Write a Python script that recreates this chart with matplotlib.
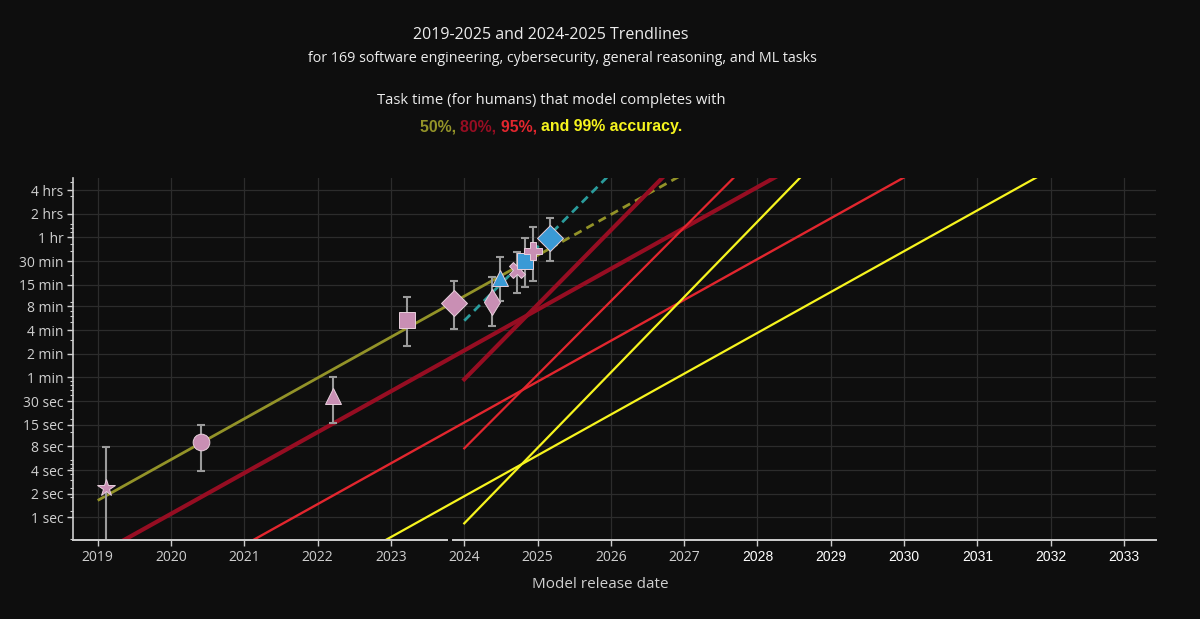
import matplotlib
matplotlib.use("Agg")
import matplotlib.pyplot as plt
from matplotlib.ticker import FixedLocator, NullFormatter, LogLocator

# ---------------- data ----------------
# model release dates (decimal year) and 50% time horizons (minutes)
model_year = [2019.11, 2020.41, 2022.21, 2023.22, 2023.86, 2024.38,
              2024.49, 2024.72, 2024.83, 2024.94, 2025.17]
horizon_min = [0.040, 0.150, 0.586, 5.36, 8.8, 9.15,
               18.1, 23.1, 30.4, 40.3, 59.5]
ci_low_min = [0.002, 0.065, 0.261, 2.53, 4.12, 4.53,
              9.42, 11.7, 13.95, 16.8, 30.4]
ci_high_min = [0.132, 0.249, 1.02, 10.6, 16.9, 18.7,
               34.1, 39.5, 59.5, 80.6, 106.8]
model_marker = ['*', 'o', '^', 's', 'D', 'd', '^', 'X', 's', 'P', 'D']
model_color_group = ['pink', 'pink', 'pink', 'pink', 'pink', 'pink',
                     'blue', 'pink', 'blue', 'pink', 'blue']
model_marker_size = [13, 12, 12, 12, 13, 13, 12, 12, 12, 13, 13]

# 2019-2025 trendlines: value at 2024.0 (minutes), doublings per year, year span
long_labels = ['50%', '80%', '95%', '99%']
long_value_2024 = [10.75, 2.2, 0.268, 0.031]
long_doublings_per_year = [1.723, 1.723, 1.723, 1.723]
long_start_year = [2019.0, 2019.0, 2019.0, 2019.0]
long_end_year = [2027.5, 2033.4, 2033.4, 2033.4]

# 2024-2025 trendlines
short_labels = ['50%', '80%', '95%', '99%']
short_value_2024 = [5.25, 0.946, 0.1257, 0.01402]
short_doublings_per_year = [3.108, 3.146, 3.106, 3.183]
short_start_year = [2024.0, 2024.0, 2024.0, 2024.0]
short_end_year = [2027.0, 2028.0, 2028.0, 2029.0]

ytick_values = [1/60, 2/60, 4/60, 8/60, 15/60, 0.5, 1, 2, 4, 8, 15, 30, 60, 120, 240]
ytick_labels = ['1 sec', '2 sec', '4 sec', '8 sec', '15 sec', '30 sec', '1 min',
                '2 min', '4 min', '8 min', '15 min', '30 min', '1 hr', '2 hrs', '4 hrs']
xtick_years = list(range(2019, 2034))

# ---------------- style ----------------
BG = '#0e0e0e'
OLIVE = '#939328'
DARKRED = '#960d22'
RED = '#e2262e'
YELLOW = '#f6f41e'
TEAL = '#2a9c9c'
PINK = '#c98fb4'
BLUE = '#3a9ad6'
ACC_COLORS = [OLIVE, DARKRED, RED, YELLOW]
LONG_LW = [2.0, 3.0, 1.7, 1.6]
SHORT_COLORS = [TEAL, DARKRED, RED, YELLOW]
SHORT_LW = [2.0, 3.0, 1.6, 1.6]
TXT = '#cfcfcf'
FONT = ['Open Sans', 'DejaVu Sans']

W, H = 1200, 619
fig = plt.figure(figsize=(W/100, H/100), dpi=100, facecolor=BG)
L, R, T, B = 73, 1156, 178, 540
ax = fig.add_axes([L/W, 1 - B/H, (R-L)/W, (B-T)/H], facecolor=BG)

ax.set_yscale('log')
ax.set_xlim(2018.663, 2033.436)
ax.set_ylim(0.00862, 340.9)

def val(v0, rate, t):
    return v0 * 2 ** (rate * (t - 2024.0))

# long trendlines
for i in range(4):
    t0, t1 = long_start_year[i], long_end_year[i]
    v0, r = long_value_2024[i], long_doublings_per_year[i]
    if i == 0:
        a, b = model_year[0], model_year[-1]
        ax.plot([t0, a], [val(v0, r, t0), val(v0, r, a)], color=ACC_COLORS[i],
                lw=LONG_LW[i], ls=(0, (3, 2)), zorder=3)
        ax.plot([a, b], [val(v0, r, a), val(v0, r, b)], color=ACC_COLORS[i],
                lw=LONG_LW[i], zorder=3, solid_capstyle='butt')
        ax.plot([b, t1], [val(v0, r, b), val(v0, r, t1)], color=ACC_COLORS[i],
                lw=LONG_LW[i], ls=(0, (3, 2)), zorder=3)
    else:
        ax.plot([t0, t1], [val(v0, r, t0), val(v0, r, t1)], color=ACC_COLORS[i],
                lw=LONG_LW[i], zorder=3)

# short trendlines
for i in range(4):
    t0, t1 = short_start_year[i], short_end_year[i]
    v0, r = short_value_2024[i], short_doublings_per_year[i]
    ls = (0, (3, 2)) if i == 0 else '-'
    ax.plot([t0, t1], [val(v0, r, t0), val(v0, r, t1)], color=SHORT_COLORS[i],
            lw=SHORT_LW[i], ls=ls, zorder=3)

# data points
for i in range(len(model_year)):
    c = PINK if model_color_group[i] == 'pink' else BLUE
    ax.errorbar([model_year[i]], [horizon_min[i]],
                yerr=[[horizon_min[i] - ci_low_min[i]], [ci_high_min[i] - horizon_min[i]]],
                fmt='none', ecolor='#9b9b9b', elinewidth=1.5, capsize=3, capthick=1.5,
                zorder=4)
    ax.plot([model_year[i]], [horizon_min[i]], marker=model_marker[i], ls='none',
            ms=model_marker_size[i], mfc=c, mec='#e8d0dc', mew=0.7, zorder=5)

# axes styling
ax.yaxis.set_major_locator(FixedLocator(ytick_values))
ax.set_yticklabels(ytick_labels)
ax.yaxis.set_minor_locator(LogLocator(base=10, subs=range(2, 10), numticks=30))
ax.yaxis.set_minor_formatter(NullFormatter())
ax.set_xticks(xtick_years)
ax.set_xticklabels([str(y) for y in xtick_years])
ax.grid(True, which='major', color='#2c2c2c', lw=0.9)
ax.set_axisbelow(True)
for s in ['top', 'right', 'bottom']:
    ax.spines[s].set_visible(False)
ax.spines['left'].set_color('#cfcfcf')
ax.spines['left'].set_linewidth(1.2)
ax.tick_params(axis='y', which='major', colors='#cfcfcf', length=4, width=1, labelsize=10, pad=3)
ax.tick_params(axis='y', which='minor', colors='#cfcfcf', length=2, width=0.8)
ax.tick_params(axis='x', which='major', colors='#cfcfcf', length=4, width=1, labelsize=10, pad=3)
for lbl in ax.get_yticklabels():
    lbl.set_family(FONT)
    lbl.set_color(TXT)
for lbl, y in zip(ax.get_xticklabels(), xtick_years):
    if y >= 2028:
        lbl.set_family(['Liberation Sans', 'DejaVu Sans'])
        lbl.set_color('#ffffff')
        lbl.set_fontsize(10)
    else:
        lbl.set_family(FONT)
        lbl.set_color(TXT)

# broken bottom spine
brk0, brk1 = (447 - L) / (R - L), (453 - L) / (R - L)
ax.plot([0, brk0], [0, 0], transform=ax.transAxes, color='#cfcfcf', lw=1.4, clip_on=False, zorder=6)
ax.plot([brk1, 1], [0, 0], transform=ax.transAxes, color='#cfcfcf', lw=1.4, clip_on=False, zorder=6)

# titles
fig.text(551/W, 1 - 35/H, '2019-2025 and 2024-2025 Trendlines', ha='center', va='center',
         color='#ececec', fontsize=11.5, family=FONT)
fig.text(562/W, 1 - 59/H,
         'for 169 software engineering, cybersecurity, general reasoning, and ML tasks',
         ha='center', va='center', color='#ececec', fontsize=10.3, family=FONT)
fig.text(551/W, 1 - 101/H, 'Task time (for humans) that model completes with',
         ha='center', va='center', color='#ececec', fontsize=10.7, family=FONT)
fig.text(600/W, 1 - 585/H, 'Model release date', ha='center', va='center',
         color='#d0d0d0', fontsize=11, family=FONT)

# multicolour accuracy line
pieces = ['50%, ', '80%, ', '95%, ', 'and 99% accuracy.']
acc_font = dict(fontsize=11.4, fontweight='bold', family=['Liberation Sans', 'DejaVu Sans'])
fig.canvas.draw()
rend = fig.canvas.get_renderer()
tmp = fig.text(0, 0, ''.join(pieces), **acc_font)
total_w = tmp.get_window_extent(rend).width
tmp.remove()
x = 551 - total_w / 2
ybase = 1 - 127/H
for p, c in zip(pieces, ACC_COLORS):
    t = fig.text(x/W, ybase, p, color=c, ha='left', va='center', **acc_font)
    x += t.get_window_extent(rend).width

fig.savefig('out.png', dpi=100, facecolor=BG)
